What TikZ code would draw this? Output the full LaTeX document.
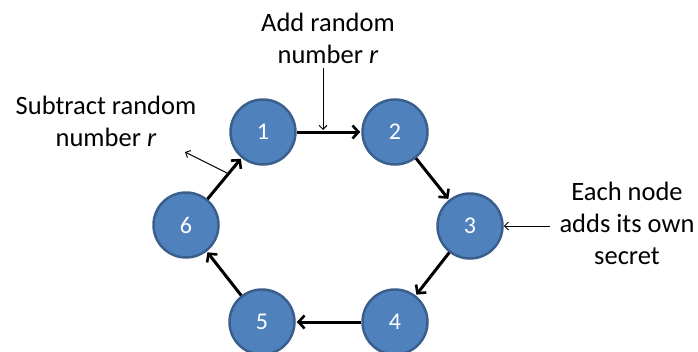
\documentclass[tikz,border=0pt]{standalone}
\usepackage{fontspec}
\setmainfont{Carlito}
\usetikzlibrary{arrows.meta}
\definecolor{nodefill}{HTML}{4F81BD}
\definecolor{nodeedge}{HTML}{3A5F8C}
\begin{document}
\begin{tikzpicture}[x=1pt,y=-1pt,
  ringnode/.style={circle,fill=nodefill,draw=nodeedge,line width=2.5pt,minimum size=65pt,inner sep=0pt,text=white,font=\fontsize{24}{29}\selectfont},
  ringarrow/.style={line width=3pt,-{Straight Barb[length=6pt,width=13pt,line width=2.6pt]},shorten >=1pt},
  notearrow/.style={line width=1pt,-{Straight Barb[length=4pt,width=8pt,line width=1pt]}},
  note/.style={align=center,inner sep=0pt,font=\fontsize{26.5}{32}\selectfont}]
\useasboundingbox (0,0) rectangle (698,351);
\node[ringnode] (n1) at (263,132) {1};
\node[ringnode] (n2) at (395,132) {2};
\node[ringnode] (n3) at (470,226) {3};
\node[ringnode] (n4) at (395,322) {4};
\node[ringnode] (n5) at (262,322) {5};
\node[ringnode] (n6) at (186,225) {6};
\draw[ringarrow] (n1) -- (n2);
\draw[ringarrow] (n2) -- (n3);
\draw[ringarrow] (n3) -- (n4);
\draw[ringarrow] (n4) -- (n5);
\draw[ringarrow] (n5) -- (n6);
\draw[ringarrow] (n6) -- (n1);
\node[note,anchor=base] (add) at (328,63) {Add random\\number \textit{r}};
\node[note,anchor=base] (sub) at (106,146) {Subtract random\\number \textit{r}};
\node[note,anchor=base] (each) at (627,264) {Each node\\adds its own\\secret};
\coordinate (addfrom) at (323,68);
\coordinate (addto) at (323,130);
\draw[notearrow] (addfrom) -- (addto);
\coordinate (subfrom) at (227,173);
\coordinate (subto) at (185,152);
\draw[notearrow] (subfrom) -- (subto);
\coordinate (eachfrom) at (550,226);
\draw[notearrow] (eachfrom) -- (n3);
\end{tikzpicture}
\end{document}
